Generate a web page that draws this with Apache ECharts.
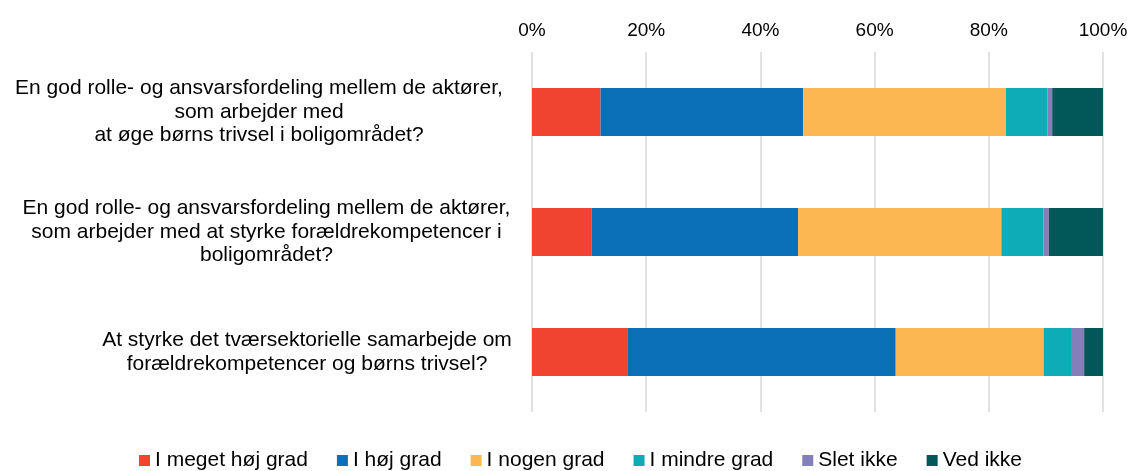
<!DOCTYPE html>
<html>
<head>
<meta charset="utf-8">
<script src="https://cdn.jsdelivr.net/npm/echarts@6/dist/echarts.min.js"></script>
<style>
  html, body { margin: 0; padding: 0; background: #fff; }
  #chart { width: 1132px; height: 471px; }
</style>
</head>
<body>
<div id="chart"></div>
<script>
// Questions (each line of a label is its own entry)
const questions = [
  ['En god rolle- og ansvarsfordeling mellem de aktører,', 'som arbejder med', 'at øge børns trivsel i boligområdet?'],
  ['En god rolle- og ansvarsfordeling mellem de aktører,', 'som arbejder med at styrke forældrekompetencer i', 'boligområdet?'],
  ['At styrke det tværsektorielle samarbejde om', 'forældrekompetencer og børns trivsel?']
];

const seriesNames = ['I meget høj grad', 'I høj grad', 'I nogen grad', 'I mindre grad', 'Slet ikke', 'Ved ikke'];

// Shares in percent, one value per question
const megetHoej = [12.0, 10.4, 16.8];
const hoej      = [35.5, 36.2, 46.9];
const nogen     = [35.5, 35.6, 25.9];
const mindre    = [7.3, 7.4, 4.8];
const sletIkke  = [0.8, 0.9, 2.3];
const vedIkke   = [8.9, 9.5, 3.3];

const tickLabels = ['0%', '20%', '40%', '60%', '80%', '100%'];

const colors = ['#F04330', '#0C70B9', '#FCB752', '#0EACB7', '#837FBA', '#025859'];
const values = [megetHoej, hoej, nogen, mindre, sletIkke, vedIkke];

const categories = questions.map(q => q.join('\n'));
const blockWidths = [510, 495, 414];

const rich = {};
blockWidths.forEach((w, i) => {
  rich['q' + i] = { width: w, align: 'center', fontSize: 21, lineHeight: 23.5, color: '#000', fontFamily: 'Liberation Sans, Arial, sans-serif' };
});

const chart = echarts.init(document.getElementById('chart'), null, { renderer: 'canvas' });
chart.setOption({
  animation: false,
  color: colors,
  textStyle: { fontFamily: 'Liberation Sans, Arial, sans-serif' },
  grid: { left: 532, right: 29, top: 52, bottom: 59 },
  legend: {
    top: 445,
    left: 134,
    itemWidth: 11,
    itemHeight: 11,
    itemGap: 29,
    icon: 'rect',
    textStyle: { fontSize: 21, color: '#000' },
    data: seriesNames
  },
  xAxis: {
    type: 'value',
    position: 'top',
    min: 0,
    max: 100,
    interval: 20,
    axisLine: { show: false },
    axisTick: { show: false },
    axisLabel: {
      fontSize: 19,
      color: '#000',
      margin: 12,
      formatter: v => tickLabels[Math.round(v / 20)]
    },
    splitLine: { lineStyle: { color: '#d9d9d9', width: 1.5 } }
  },
  yAxis: {
    type: 'category',
    inverse: true,
    data: categories,
    axisLine: { show: false },
    axisTick: { show: false },
    axisLabel: {
      margin: 18,
      align: 'right',
      formatter: (v, i) => questions[i].map(l => '{q' + i + '|' + l + '}').join('\n'),
      rich: rich
    }
  },
  series: seriesNames.map((name, k) => ({
    name: name,
    type: 'bar',
    stack: 'total',
    barWidth: 48,
    data: values[k],
    itemStyle: { color: colors[k] }
  }))
});
</script>
</body>
</html>
